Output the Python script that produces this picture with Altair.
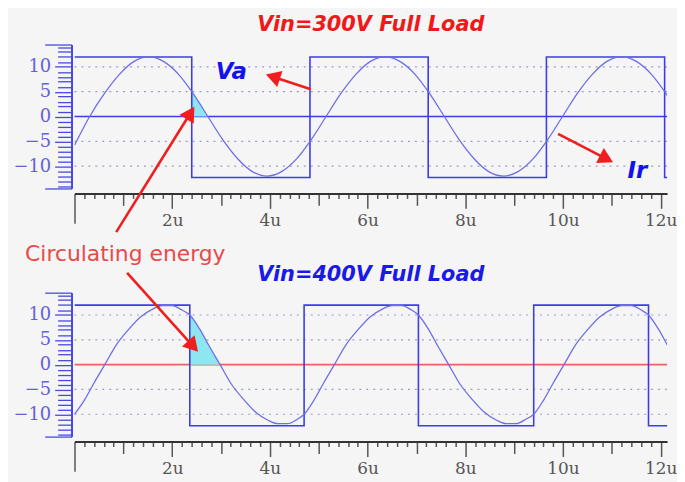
import altair as alt
import pandas as pd

# ---------------- data ----------------
x_domain = [0, 12.13]          # time, microseconds
y_domain = [-14.5, 14.5]
grid_levels = [-10, -5, 5, 10]

top_title = "Vin=300V Full Load"
bot_title = "Vin=400V Full Load"

# square wave Va (edges, level after edge)
top_sq_t = [0.0, 2.40, 4.82, 7.24, 9.66, 12.08, 12.40]
top_sq_v = [12.0, -12.3, 12.0, -12.3, 12.0, -12.3, -12.3]
bot_sq_t = [0.0, 2.36, 4.70, 7.04, 9.40, 11.75, 12.40]
bot_sq_v = [12.0, -12.3, 12.0, -12.3, 12.0, -12.3, -12.3]

# resonant current Ir
top_sin_t = [0.00, 0.31, 0.61, 0.92, 1.22, 1.52, 1.82, 2.13, 2.43, 2.73, 3.03,
             3.34, 3.64, 3.94, 4.24, 4.55, 4.85, 5.15, 5.45, 5.76, 6.06, 6.36,
             6.66, 6.97, 7.27, 7.57, 7.87, 8.18, 8.48, 8.78, 9.08, 9.39, 9.69,
             9.99, 10.29, 10.60, 10.90, 11.20, 11.50, 11.81, 12.11, 12.41]
top_sin_v = [-5.8, 0.0, 4.6, 8.5, 11.1, 12.0, 11.1, 8.5, 4.6, 0.0, -4.6,
             -8.5, -11.1, -12.0, -11.1, -8.5, -4.6, 0.0, 4.6, 8.5, 11.1, 12.0,
             11.1, 8.5, 4.6, 0.0, -4.6, -8.5, -11.1, -12.0, -11.1, -8.5, -4.6,
             0.0, 4.6, 8.5, 11.1, 12.0, 11.1, 8.5, 4.6, 0.0]

bot_sin_t = [0.00, 0.20, 0.40, 0.62, 0.85, 1.10, 1.35, 1.60, 1.80, 2.00, 2.20,
             2.36, 2.56, 2.76, 2.98, 3.21, 3.46, 3.71, 3.96, 4.16, 4.36, 4.56,
             4.70, 4.90, 5.10, 5.32, 5.55, 5.80, 6.05, 6.30, 6.50, 6.70, 6.90,
             7.04, 7.24, 7.44, 7.66, 7.89, 8.14, 8.39, 8.64, 8.84, 9.04, 9.24,
             9.40, 9.60, 9.80, 10.02, 10.25, 10.50, 10.75, 11.00, 11.20, 11.40, 11.60,
             11.75, 11.95, 12.15, 12.37]
bot_sin_v = [-10.0, -7.2, -3.7, 0.0, 3.9, 7.0, 9.6, 11.2, 11.9, 11.9, 11.0,
             10.0, 7.2, 3.7, 0.0, -3.9, -7.0, -9.6, -11.2, -11.9, -11.9, -11.0,
             -10.0, -7.2, -3.7, 0.0, 3.9, 7.0, 9.6, 11.2, 11.9, 11.9, 11.0,
             10.0, 7.2, 3.7, 0.0, -3.9, -7.0, -9.6, -11.2, -11.9, -11.9, -11.0,
             -10.0, -7.2, -3.7, 0.0, 3.9, 7.0, 9.6, 11.2, 11.9, 11.9, 11.0,
             10.0, 7.2, 3.7, 0.0]

# circulating-energy regions
top_fill_t = [2.40, 2.50, 2.60, 2.73]
top_fill_v = [4.98, 3.53, 2.0, 0.0]
bot_fill_t = [2.36, 2.56, 2.76, 2.98]
bot_fill_v = [10.0, 7.2, 3.7, 0.0]

# annotation arrows: start (x0,y0), head (x1,y1), direction in degrees
top_arrow_x0 = [0.854, 4.837, 9.898]
top_arrow_y0 = [-23.3, 5.5, -3.5]
top_arrow_x1 = [2.374, 4.061, 10.89]
top_arrow_y1 = [0.7, 8.0, -8.54]
top_arrow_dir = [32, 288, 117]
bot_arrow_x0 = [1.077]
bot_arrow_y0 = [18.5]
bot_arrow_x1 = [2.429]
bot_arrow_y1 = [3.7]
bot_arrow_dir = [138]

sig_labels = ["Va", "Ir"]
sig_label_t = [3.21, 11.52]
sig_label_v = [8.9, -10.9]
note_text = ["Circulating energy"]
note_t = [1.04]
note_v = [-27.7]

x_ticks = [round(i * 0.2, 1) for i in range(61)]
y_ticks = [-14.5] + list(range(-14, 15)) + [14.5]

# ---------------- styling ----------------
RED = "#f01e1e"
BLUE_SQ = "#3c3ce8"
BLUE_SIN = "#6e6ee6"
AXBLUE = "#4848e4"

xs = alt.Scale(domain=x_domain, nice=False, zero=False)
ys = alt.Scale(domain=y_domain, nice=False, zero=False)

x_axis = alt.Axis(
    values=x_ticks, title=None, grid=False, offset=5,
    labelExpr="datum.value > 0 && round(datum.value*5) % 10 == 0 ? round(datum.value) + 'u' : ''",
    tickSize=alt.ExprRef(expr="datum.value == 0 ? 30 : (round(datum.value*5) % 10 == 0 ? 15 : (round(datum.value*5) % 5 == 0 ? 12 : 5))"),
    domainColor="#333333", domainWidth=2, tickColor="#555555", tickWidth=1.5,
    labelFont="DejaVu Serif", labelFontSize=17, labelColor="#555555",
    labelPadding=4, labelOverlap=False, labelFlush=False,
)
y_axis = alt.Axis(
    values=y_ticks, title=None, grid=False, offset=3,
    labelExpr="abs(datum.value) < 14 && datum.value % 5 == 0 ? format(datum.value, 'd') : ''",
    tickSize=alt.ExprRef(expr="abs(datum.value) > 14 ? 27 : (datum.value % 5 == 0 ? 17 : 14)"),
    domainColor=AXBLUE, domainWidth=2, tickColor=AXBLUE, tickWidth=1.3,
    labelFont="DejaVu Serif", labelFontSize=18, labelColor="#6262dc",
    labelPadding=4, labelOverlap=False, labelFlush=False,
)


def X(f):
    return alt.X(f, scale=xs, axis=x_axis)


def Y(f):
    return alt.Y(f, scale=ys, axis=y_axis)


def panel(sq_t, sq_v, sin_t, sin_v, fill_t, fill_v, zero_color, title_text, title_color,
          title_offset, ax0, ay0, ax1, ay1, adir, with_labels):
    grid = alt.Chart(pd.DataFrame({"v": grid_levels})).mark_rule(
        color="#9c9cc8", strokeDash=[2, 5], strokeWidth=1.2
    ).encode(y=Y("v:Q"))
    zero = alt.Chart(pd.DataFrame({"v": [0]})).mark_rule(
        color=zero_color, strokeWidth=1.6
    ).encode(y=Y("v:Q"))
    area = alt.Chart(pd.DataFrame({"t": fill_t, "v": fill_v})).mark_area(
        color="#8ee6f0", opacity=1, interpolate="monotone"
    ).encode(x=X("t:Q"), y=Y("v:Q"), y2=alt.Y2Datum(0))
    sq = alt.Chart(pd.DataFrame({"t": sq_t, "v": sq_v})).mark_line(
        color=BLUE_SQ, strokeWidth=1.6, interpolate="step-after", clip=True
    ).encode(x=X("t:Q"), y=Y("v:Q"))
    sine = alt.Chart(pd.DataFrame({"t": sin_t, "v": sin_v})).mark_line(
        color=BLUE_SIN, strokeWidth=1.3, interpolate="monotone", clip=True
    ).encode(x=X("t:Q"), y=Y("v:Q"))
    adf = pd.DataFrame({"x0": ax0, "y0": ay0, "x1": ax1, "y1": ay1, "a": adir})
    shaft = alt.Chart(adf).mark_rule(color=RED, strokeWidth=2.6).encode(
        x=X("x0:Q"), y=Y("y0:Q"), x2="x1:Q", y2="y1:Q"
    )
    head = alt.Chart(adf).mark_point(
        shape="triangle-up", filled=True, size=290, color=RED, opacity=1, strokeWidth=0
    ).encode(x=X("x1:Q"), y=Y("y1:Q"), angle=alt.Angle("a:Q", scale=None))
    layers = [grid, zero, area, sq, sine, shaft, head]
    if with_labels:
        sl = alt.Chart(pd.DataFrame({"t": sig_label_t, "v": sig_label_v, "s": sig_labels})).mark_text(
            font="DejaVu Sans", fontSize=23, fontStyle="italic", fontWeight="bold",
            color="#1212ee", align="center", baseline="middle"
        ).encode(x=X("t:Q"), y=Y("v:Q"), text="s:N")
        nt = alt.Chart(pd.DataFrame({"t": note_t, "v": note_v, "s": note_text})).mark_text(
            font="DejaVu Sans", fontSize=22, color="#e84a4a", align="center", baseline="middle"
        ).encode(x=X("t:Q"), y=Y("v:Q"), text="s:N")
        layers += [sl, nt]
    return alt.layer(*layers).properties(
        width=597, height=145,
        title=alt.TitleParams(
            title_text, color=title_color, font="DejaVu Sans", fontSize=21,
            fontStyle="italic", fontWeight="bold", offset=title_offset, anchor="middle"
        ),
    )


top = panel(top_sq_t, top_sq_v, top_sin_t, top_sin_v, top_fill_t, top_fill_v,
            BLUE_SQ, top_title, "#f01818", 1,
            top_arrow_x0, top_arrow_y0, top_arrow_x1, top_arrow_y1, top_arrow_dir, True)
bot = panel(bot_sq_t, bot_sq_v, bot_sin_t, bot_sin_v, bot_fill_t, bot_fill_v,
            "#f06060", bot_title, "#1a1ae6", -14,
            bot_arrow_x0, bot_arrow_y0, bot_arrow_x1, bot_arrow_y1, bot_arrow_dir, False)

chart = alt.vconcat(top, bot, spacing=105, bounds="flush").properties(
    background="#f5f5f5",
    padding={"left": 5, "top": 4, "right": 0, "bottom": 0},
).configure_view(stroke=None)

chart.save("out.html", embed_options={"renderer": "svg", "actions": False})
